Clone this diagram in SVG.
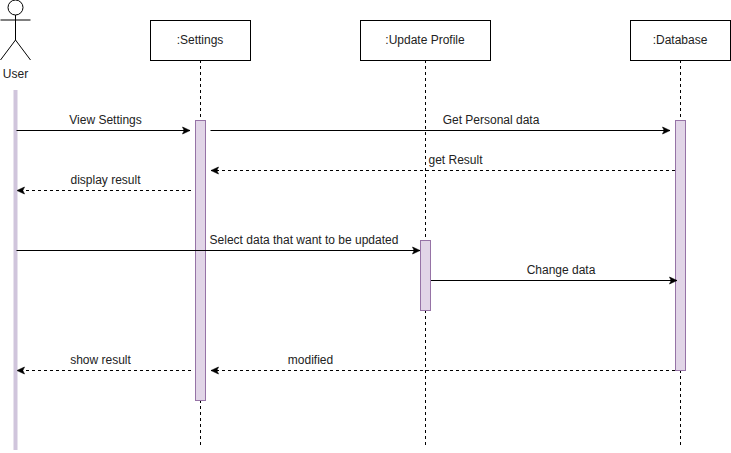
<svg xmlns="http://www.w3.org/2000/svg" width="731" height="453" viewBox="0 0 731 453">
<style>
text{font-family:"Liberation Sans",Arial,sans-serif;font-size:12px;fill:#222;text-anchor:middle}
.box{fill:#fff;stroke:#000;stroke-width:1}
.life{fill:none;stroke:#000;stroke-width:1;stroke-dasharray:3 3}
.act{fill:#e1d5e7;stroke:#9673a6;stroke-width:1}
.msg{fill:none;stroke:#000;stroke-width:1;marker-end:url(#a)}
.ret{fill:none;stroke:#000;stroke-width:1;stroke-dasharray:3 3;marker-end:url(#a)}
.actor{fill:none;stroke:#000;stroke-width:1}
</style>
<defs>
<marker id="a" markerUnits="userSpaceOnUse" markerWidth="9" markerHeight="9" refX="8" refY="4.500" orient="auto">
<path d="M0.500 1L8 4.500L0.500 8L2.200 4.500Z" fill="#000" stroke="#000" stroke-width="0.600"/>
</marker>
</defs>
<rect width="731" height="453" fill="#fff"/>
<g id="lifelines">
<path class="life" d="M200.500 60V120M200.500 400V448"/>
<path class="life" d="M425.500 60V240M425.500 310V448"/>
<path class="life" d="M680.500 60V120M680.500 370V448"/>
</g>
<g id="user">
<circle class="actor" cx="15.500" cy="7.500" r="7.500"/>
<path class="actor" d="M15.500 15V40M0.500 20H30.500M15.500 40L0.500 60M15.500 40L30.500 60"/>
<text x="15.500" y="78">User</text>
<rect x="13.500" y="90" width="4" height="360" fill="#d0c5dc"/>
</g>
<g id="settings">
<rect class="box" x="150.500" y="20.500" width="100" height="40"/>
<text x="200" y="44">:Settings</text>
<rect class="act" x="195.500" y="120.500" width="10" height="280"/>
</g>
<g id="update-profile">
<rect class="box" x="360.500" y="20.500" width="130" height="40"/>
<text x="425" y="44">:Update Profile</text>
<rect class="act" x="420.500" y="240.500" width="10" height="70"/>
</g>
<g id="database">
<rect class="box" x="630.500" y="20.500" width="100" height="40"/>
<text x="680" y="44">:Database</text>
<rect class="act" x="675.500" y="120.500" width="10" height="250"/>
</g>
<g id="connectors">
<path class="msg" d="M16.500 130.500H190"/>
<path class="msg" d="M210.500 130.500H670"/>
<path class="ret" d="M675 170.500H211"/>
<path class="ret" d="M191 190.500H17"/>
<path class="msg" d="M16.500 250.500H420"/>
<path class="msg" d="M431 280.500H677"/>
<path class="ret" d="M191 370.500H17"/>
<path class="ret" d="M675 370.500H211"/>
</g>
<g id="labels">
<text x="105.500" y="124">View Settings</text>
<text x="491" y="124">Get Personal data</text>
<text x="455.500" y="164">get Result</text>
<text x="105.500" y="184">display result</text>
<text x="304" y="244">Select data that want to be updated</text>
<text x="561" y="274">Change data</text>
<text x="100.500" y="364">show result</text>
<text x="310.500" y="364">modified</text>
</g>
</svg>
